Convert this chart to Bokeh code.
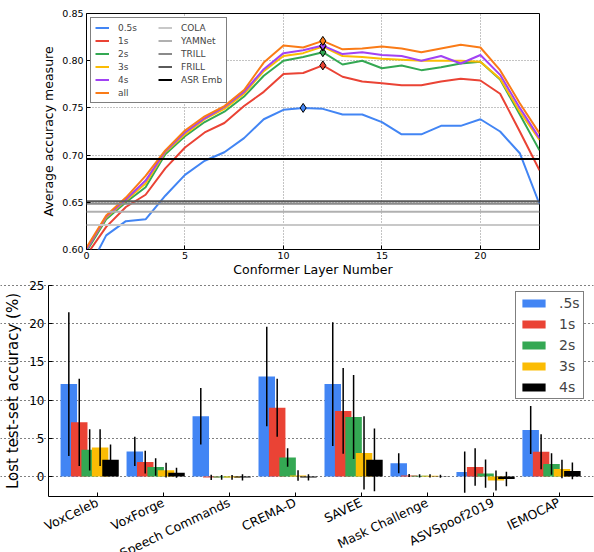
import numpy as np
from bokeh.plotting import figure
from bokeh.models import (Legend, LegendItem, Range1d, FixedTicker,
                          NumeralTickFormatter, ColumnDataSource)
from bokeh.layouts import column
from bokeh.embed import file_html
from bokeh.resources import INLINE

# ---------------- data: top chart ----------------
layers = list(range(24))
acc_05s = [0.575, 0.615, 0.630, 0.632, 0.657, 0.679, 0.694, 0.703, 0.718, 0.738, 0.748, 0.750,
           0.749, 0.743, 0.743, 0.735, 0.722, 0.722, 0.731, 0.731, 0.738, 0.725, 0.702, 0.648]
acc_1s = [0.594, 0.624, 0.645, 0.658, 0.686, 0.708, 0.724, 0.734, 0.752, 0.767, 0.786, 0.787,
          0.795, 0.783, 0.778, 0.776, 0.774, 0.774, 0.778, 0.781, 0.779, 0.765, 0.725, 0.684]
acc_2s = [0.598, 0.632, 0.650, 0.666, 0.701, 0.720, 0.735, 0.746, 0.762, 0.784, 0.800, 0.804,
          0.809, 0.796, 0.800, 0.792, 0.795, 0.790, 0.793, 0.797, 0.799, 0.780, 0.743, 0.705]
acc_3s = [0.600, 0.634, 0.652, 0.670, 0.703, 0.722, 0.738, 0.749, 0.765, 0.789, 0.805, 0.808,
          0.815, 0.805, 0.804, 0.802, 0.801, 0.800, 0.800, 0.800, 0.799, 0.781, 0.746, 0.716]
acc_4s = [0.600, 0.635, 0.653, 0.673, 0.704, 0.724, 0.739, 0.751, 0.767, 0.791, 0.808, 0.811,
          0.816, 0.807, 0.809, 0.806, 0.805, 0.800, 0.805, 0.797, 0.806, 0.785, 0.750, 0.718]
acc_all = [0.602, 0.636, 0.655, 0.678, 0.705, 0.726, 0.741, 0.752, 0.769, 0.798, 0.816, 0.814,
           0.821, 0.812, 0.813, 0.815, 0.813, 0.809, 0.813, 0.817, 0.814, 0.790, 0.755, 0.723]
line_labels = ["0.5s", "1s", "2s", "3s", "4s", "all"]

baseline_names = ["COLA", "YAMNet", "TRILL", "FRILL", "ASR Emb"]
baseline_values = [0.626, 0.640, 0.6485, 0.651, 0.696]

# ---------------- data: bottom chart ----------------
datasets = ["VoxCeleb", "VoxForge", "Speech Commands", "CREMA-D", "SAVEE",
            "Mask Challenge", "ASVSpoof2019", "IEMOCAP"]
bar_labels = [".5s", "1s", "2s", "3s", "4s"]
lost_05s = [12.1, 3.3, 7.9, 13.1, 12.1, 1.75, 0.6, 6.1]
err_05s = [9.4, 1.9, 3.7, 6.5, 8.1, 1.3, 2.7, 3.15]
lost_1s = [7.1, 1.9, -0.1, 9.0, 8.6, 0.15, 1.25, 3.25]
err_1s = [5.7, 1.5, 0.35, 3.8, 5.6, 0.2, 2.45, 2.3]
lost_2s = [3.5, 1.25, -0.1, 2.5, 7.8, 0.1, 0.4, 1.65]
err_2s = [2.7, 1.15, 0.3, 1.2, 5.5, 0.2, 1.85, 1.4]
lost_3s = [3.8, 0.85, -0.1, 0.15, 3.1, 0.1, -0.5, 1.0]
err_3s = [2.4, 0.95, 0.3, 0.7, 4.8, 0.2, 1.3, 1.2]
lost_4s = [2.2, 0.5, -0.1, -0.1, 2.2, 0.05, -0.3, 0.75]
err_4s = [2.0, 0.65, 0.4, 0.4, 4.1, 0.2, 0.95, 1.1]
y_axis_min = -2.6     # value-axis extent of the bar chart
y_axis_max = 25
x_axis_min = -0.74    # category-axis extent of the bar chart
x_axis_max = 7.52

# ---------------- styles ----------------
FONT = "DejaVu Sans"
line_colors = ["#4285F4", "#EA4335", "#34A853", "#FBBC04", "#A142F4", "#FA7B17"]
baseline_colors = ["#c8c8c8", "#b0b0b0", "#8a8a8a", "#5a5a5a", "#000000"]
bar_colors = ["#4285F4", "#EA4335", "#34A853", "#FBBC04", "#000000"]
bar_offsets = [-0.432, -0.274, -0.116, 0.042, 0.2]
bar_width = 0.25
BOTTOM_W, BOTTOM_H = 594, 273
LEFT_ROOM_PX = 48     # room left of the bar chart for its value axis
TOP_ROOM_PX = 6
BELOW_ROOM_PX = 56    # room below the bar chart for the slanted labels


def style_axis(ax, tick_size, label_size):
    ax.major_label_text_font = FONT
    ax.major_label_text_font_size = tick_size
    ax.major_label_text_color = "black"
    ax.axis_label_text_font = FONT
    ax.axis_label_text_font_size = label_size
    ax.axis_label_text_font_style = "normal"
    ax.axis_label_text_color = "black"
    ax.major_tick_in = 4
    ax.major_tick_out = 0
    ax.major_tick_line_color = "black"
    ax.minor_tick_line_color = None


def no_align(p):
    if "frame_align" in p.properties():
        p.frame_align = False


# ================= top chart =================
p1 = figure(width=594, height=279, x_range=Range1d(0, 23), y_range=Range1d(0.60, 0.85),
            output_backend="svg", toolbar_location=None,
            min_border_left=86, min_border_right=55, min_border_top=13, min_border_bottom=0)
no_align(p1)
p1.outline_line_color = "black"
p1.outline_line_width = 1
p1.xaxis.ticker = FixedTicker(ticks=[0, 5, 10, 15, 20])
p1.yaxis.ticker = FixedTicker(ticks=[0.60, 0.65, 0.70, 0.75, 0.80, 0.85])
p1.yaxis.formatter = NumeralTickFormatter(format="0.00")
for ax in (p1.xaxis[0], p1.yaxis[0]):
    style_axis(ax, "9.5px", "12.5px")
    ax.axis_line_color = None
p1.xaxis.major_label_standoff = 2
p1.yaxis.major_label_standoff = 3
p1.xaxis.axis_label_standoff = 0
p1.yaxis.axis_label_standoff = 3
p1.xaxis.axis_label = "Conformer Layer Number"
p1.yaxis.axis_label = "Average accuracy measure"
for g in (p1.xgrid[0], p1.ygrid[0]):
    g.grid_line_color = "#888888"
    g.grid_line_dash = "1 2"
    g.grid_line_width = 1

series = [acc_05s, acc_1s, acc_2s, acc_3s, acc_4s, acc_all]
line_renderers = []
for vals, col in zip(series, line_colors):
    r = p1.line(layers, vals, line_color=col, line_width=2)
    line_renderers.append(r)

base_renderers = []
for v, col in zip(baseline_values, baseline_colors):
    r = p1.line([layers[0], layers[-1]], [v, v], line_color=col, line_width=2)
    base_renderers.append(r)

for vals, col in zip(series, line_colors):
    i = int(np.argmax(vals))
    p1.scatter([layers[i]], [vals[i]], marker="diamond", size=9,
               fill_color=col, line_color="black", line_width=1)

items1 = [LegendItem(label=l, renderers=[r]) for l, r in zip(line_labels, line_renderers)]
items1 += [LegendItem(label=l, renderers=[r]) for l, r in zip(baseline_names, base_renderers)]
leg1 = Legend(items=items1, location="top_left", ncols=2,
              label_text_font=FONT, label_text_font_size="9px",
              glyph_width=14, glyph_height=11, label_height=11, label_width=38,
              label_standoff=9, spacing=2, padding=4, margin=4,
              border_line_color="black", border_line_width=1,
              background_fill_color="white", background_fill_alpha=1)
p1.add_layout(leg1)

# ================= bottom chart =================
# the frame fills the whole figure so the slanted labels are not cut;
# the axes sit at fixed data positions inside it
inner_w = BOTTOM_W - 1 - LEFT_ROOM_PX
inner_h = BOTTOM_H - TOP_ROOM_PX - BELOW_ROOM_PX
ux = (x_axis_max - x_axis_min) / inner_w
uy = (y_axis_max - y_axis_min) / inner_h
p2 = figure(width=BOTTOM_W, height=BOTTOM_H,
            x_range=Range1d(x_axis_min - LEFT_ROOM_PX * ux, x_axis_max),
            y_range=Range1d(y_axis_min - BELOW_ROOM_PX * uy, y_axis_max + TOP_ROOM_PX * uy),
            output_backend="svg", toolbar_location=None,
            min_border_left=0, min_border_right=1, min_border_top=0,
            min_border_bottom=0)
no_align(p2)
p2.outline_line_color = None
p2.xgrid.visible = False
p2.ygrid.ticker = FixedTicker(ticks=[0, 5, 10, 15, 20, 25])
p2.ygrid.bounds = (x_axis_min, x_axis_max)
p2.ygrid.grid_line_color = "black"
p2.ygrid.grid_line_dash = "1 3"
p2.ygrid.grid_line_width = 1
p2.yaxis.ticker = FixedTicker(ticks=[0, 5, 10, 15, 20, 25])
p2.yaxis.bounds = (y_axis_min, y_axis_max)
p2.yaxis.fixed_location = x_axis_min
p2.xaxis.ticker = FixedTicker(ticks=list(range(len(datasets))))
p2.xaxis.bounds = (x_axis_min, x_axis_max)
p2.xaxis.fixed_location = y_axis_min
p2.xaxis.major_label_overrides = {i: n for i, n in enumerate(datasets)}
p2.xaxis.major_label_orientation = 0.45
for ax in (p2.xaxis[0], p2.yaxis[0]):
    style_axis(ax, "12px", "15px")
    ax.axis_line_color = "black"
p2.xaxis.major_label_text_font_size = "12.5px"
p2.xaxis.major_label_standoff = 5
p2.yaxis.major_label_standoff = 4
p2.yaxis.axis_label_standoff = 4
p2.yaxis.axis_label = "Lost test-set accuracy (%)"

bar_series = [lost_05s, lost_1s, lost_2s, lost_3s, lost_4s]
err_series = [err_05s, err_1s, err_2s, err_3s, err_4s]
bar_renderers = []
for vals, errs, col, off in zip(bar_series, err_series, bar_colors, bar_offsets):
    xs = [i + off for i in range(len(datasets))]
    src = ColumnDataSource(dict(x=xs, top=vals,
                                lo=[v - e for v, e in zip(vals, errs)],
                                hi=[v + e for v, e in zip(vals, errs)]))
    r = p2.vbar(x="x", top="top", bottom=0, width=bar_width, source=src,
                fill_color=col, line_color=None)
    p2.segment(x0="x", y0="lo", x1="x", y1="hi", source=src,
               line_color="black", line_width=1.5)
    bar_renderers.append(r)

leg2 = Legend(items=[LegendItem(label=l, renderers=[r]) for l, r in zip(bar_labels, bar_renderers)],
              location=(515, 153), label_text_font=FONT, label_text_font_size="14px",
              glyph_width=29, glyph_height=10, label_height=16, label_standoff=11,
              spacing=5, padding=3, margin=0,
              border_line_color="black", border_line_width=1,
              background_fill_color="white", background_fill_alpha=1)
p2.add_layout(leg2)

layout = column(p1, p2)
open("out.html", "w").write(file_html(layout, INLINE))
